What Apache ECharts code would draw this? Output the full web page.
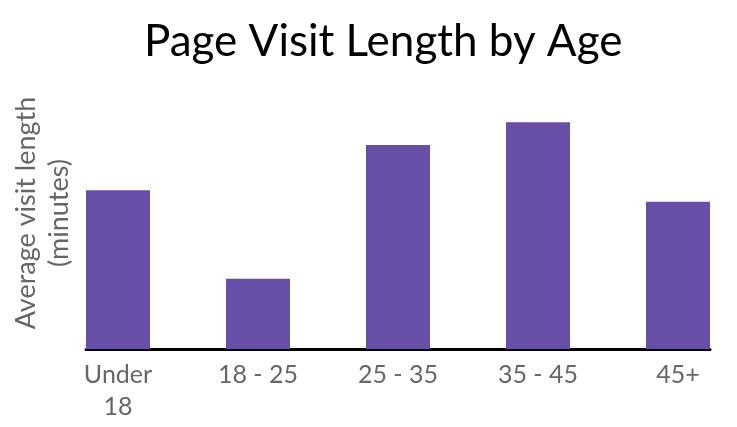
<!DOCTYPE html>
<html>
<head>
<meta charset="utf-8">
<script src="https://cdn.jsdelivr.net/npm/echarts@6/dist/echarts.min.js"></script>
<style>
  html, body { margin: 0; padding: 0; background: #fff; }
  #chart { width: 737px; height: 427px; }
</style>
</head>
<body>
<div id="chart"></div>
<script>
const ageGroups = ['Under\n18', '18 - 25', '25 - 35', '35 - 45', '45+']
const visitLength = [7, 3.1, 9, 10, 6.5]

const myChart = echarts.init(document.getElementById('chart'))
myChart.setOption({
    animation: false,
    title: {
        text: 'Page Visit Length by Age',
        left: 139,
        top: 15,
        textStyle: { fontFamily: 'Lato', fontSize: 44, fontWeight: 'normal', color: '#000' }
    },
    grid: [
        // bars + labels
        { left: 48, right: -11, top: 77, bottom: 78, outerBoundsMode: 'none' },
        // base line under the bars + y axis title
        { left: 86, right: 27, top: 77, bottom: 78, outerBoundsMode: 'none' }
    ],
    xAxis: [{
        type: 'category',
        gridIndex: 0,
        data: ageGroups,
        axisLine: { show: false },
        axisTick: { show: false },
        axisLabel: {
            margin: 10,
            fontFamily: 'Lato', fontSize: 25, lineHeight: 32, color: '#666'
        }
    }, {
        type: 'category',
        gridIndex: 1,
        data: [],
        axisLine: { show: true, lineStyle: { color: '#000', width: 3 } },
        axisTick: { show: false },
        axisLabel: { show: false }
    }],
    yAxis: [{
        type: 'value',
        gridIndex: 0,
        min: 0,
        max: 12,
        show: false
    }, {
        type: 'value',
        gridIndex: 1,
        axisLine: { show: false },
        axisTick: { show: false },
        axisLabel: { show: false },
        splitLine: { show: false },
        name: 'Average visit length\n(minutes)',
        nameLocation: 'middle',
        nameGap: 10,
        nameTextStyle: { fontFamily: 'Lato', fontSize: 27, lineHeight: 33, color: '#666' }
    }],
    series: [{
        type: 'bar',
        data: visitLength,
        barWidth: 64,
        itemStyle: { color: '#674EA7' }
    }]
})
</script>
</body>
</html>
